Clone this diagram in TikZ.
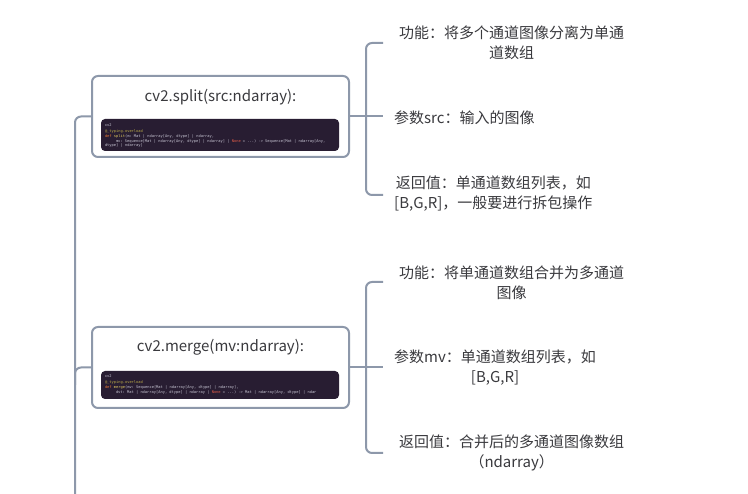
\documentclass[tikz,border=0pt]{standalone}
\usepackage{fontspec}
\setmainfont{Noto Sans CJK SC}
\setmonofont{DejaVu Sans Mono}
\usepackage{tikz}
\usetikzlibrary{positioning}
\definecolor{map-line}{RGB}{141,152,170}
\definecolor{map-text}{RGB}{58,58,62}
\definecolor{code-bg}{RGB}{40,29,50}
\definecolor{code-plain}{RGB}{200,198,212}
\definecolor{code-deco}{RGB}{186,170,72}
\definecolor{code-kw}{RGB}{228,118,52}
\definecolor{code-fn}{RGB}{226,204,96}
\definecolor{code-none}{RGB}{226,92,72}

\newcommand{\cdeco}[1]{\textcolor{code-deco}{#1}}
\newcommand{\ckw}[1]{\textcolor{code-kw}{#1}}
\newcommand{\cfn}[1]{\textcolor{code-fn}{#1}}
\newcommand{\cnone}[1]{\textcolor{code-none}{#1}}

\begin{document}
\begin{tikzpicture}[
    x=1pt, y=-1pt,
    func/.style = {rectangle, rounded corners=6pt, draw=map-line,
                   line width=2pt, fill=white,
                   minimum width=257pt, minimum height=81pt},
    title/.style = {font=\fontsize{15}{20}\selectfont, text=map-text,
                    inner sep=0pt},
    codebox/.style = {rectangle, rounded corners=4pt, fill=code-bg,
                      minimum width=238pt, inner sep=0pt},
    codetext/.style = {font=\ttfamily\fontsize{3.7}{4.6}\selectfont,
                       text=code-plain, align=left, inner sep=0pt,
                       anchor=north west},
    leaf/.style = {font=\fontsize{15}{20}\selectfont, text=map-text,
                   align=center, inner sep=0pt},
    conn/.style = {draw=map-line, line width=2pt, rounded corners=6pt}
  ]
    \useasboundingbox[fill=white] (0,0) rectangle (748,494);

    %% ---- trunk on the left ----
    \coordinate (trunkend) at (75,494);
    \coordinate (trunkmid) at (75,385);

    %% ---- cv2.split ----
    \node[func] (split) at (220.5,116.5) {};
    \node[title] (splittitle) at (220.5,97) {cv2.split(src:ndarray):};
    \node[codebox, minimum height=32pt] (splitcode) at (220,135) {};
    \node[codetext] (splitsrc) at ([xshift=4pt,yshift=-5pt]splitcode.north west)
      {{\color{code-plain}cv2}\\[1.5pt]
       \cdeco{@\_typing.overload}\\
       \ckw{def} \cfn{split}(m: Mat | ndarray[Any, dtype] | ndarray,\\
       \hspace*{11pt}mv: Sequence[Mat | ndarray[Any, dtype] | ndarray] | \cnone{None} = ...) -> Sequence[Mat | ndarray[Any,\\
       dtype] | ndarray]};

    %% ---- cv2.merge ----
    \node[func] (merge) at (220.5,367.5) {};
    \node[title] (mergetitle) at (220.5,347) {cv2.merge(mv:ndarray):};
    \node[codebox, minimum height=28pt] (mergecode) at (220,385) {};
    \node[codetext] (mergesrc) at ([xshift=4pt,yshift=-4pt]mergecode.north west)
      {{\color{code-plain}cv2}\\[1.5pt]
       \cdeco{@\_typing.overload}\\
       \ckw{def} \cfn{merge}(mv: Sequence[Mat | ndarray[Any, dtype] | ndarray],\\
       \hspace*{11pt}dst: Mat | ndarray[Any, dtype] | ndarray | \cnone{None} = ...) -> Mat | ndarray[Any, dtype] | ndar};

    \draw[conn] (split.west) -| (trunkend);
    \draw[conn] (merge.west) -| (trunkmid);

    %% ---- leaves of cv2.split ----
    \coordinate (s1) at (383,43);
    \coordinate (s2) at (383,116.5);
    \coordinate (s3) at (383,195);
    \node[leaf, anchor=west] (sfunc) at (399,43)
      {功能：将多个通道图像分离为单通\\道数组};
    \node[leaf, anchor=west] (sarg) at (394,118)
      {参数src：输入的图像};
    \node[leaf, anchor=west] (sret) at (394,194)
      {返回值：单通道数组列表，如\\{}[B,G,R]，一般要进行拆包操作};
    \draw[conn] (s1) -| (366,116.5) |- (s3);
    \draw[conn] (split.east) -- (s2);

    %% ---- leaves of cv2.merge ----
    \coordinate (m1) at (383,282);
    \coordinate (m2) at (383,367.5);
    \coordinate (m3) at (383,453);
    \node[leaf, anchor=west] (mfunc) at (399,282.5)
      {功能：将单通道数组合并为多通道\\图像};
    \node[leaf, anchor=west] (marg) at (394,368)
      {参数mv：单通道数组列表，如\\{}[B,G,R]};
    \node[leaf, anchor=west] (mret) at (399,453)
      {返回值：合并后的多通道图像数组\\（ndarray）};
    \draw[conn] (m1) -| (366,367.5) |- (m3);
    \draw[conn] (merge.east) -- (m2);

  \end{tikzpicture}
\end{document}
